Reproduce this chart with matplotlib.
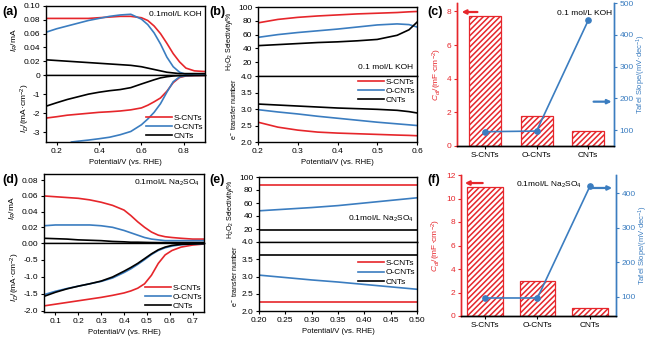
import matplotlib
matplotlib.use("Agg")
import matplotlib.pyplot as plt

plt.rcParams.update({
    "font.family": ["Liberation Sans", "DejaVu Sans"],
    "font.size": 6,
    "axes.linewidth": 1.0,
    "axes.unicode_minus": False,
    "xtick.major.size": 2.5,
    "ytick.major.size": 2.5,
    "xtick.major.width": 0.8,
    "ytick.major.width": 0.8,
    "xtick.major.pad": 1.5,
    "ytick.major.pad": 1.5,
    "mathtext.fontset": "custom",
    "mathtext.rm": "Liberation Sans",
    "mathtext.it": "Liberation Sans:italic",
    "hatch.linewidth": 1.1,
})

RED = "#e6262b"
BLUE = "#3b7dc0"
BLACK = "#000000"
labels = ["S-CNTs", "O-CNTs", "CNTs"]
colors = [RED, BLUE, BLACK]

# ---- (a) RRDE in 0.1 mol/L KOH ----
pot_a = [0.15, 0.2, 0.25, 0.3, 0.35, 0.4, 0.45, 0.5, 0.55, 0.6, 0.63, 0.66,
         0.69, 0.72, 0.75, 0.78, 0.81, 0.85, 0.9]
ir_a_s = [0.082, 0.082, 0.082, 0.082, 0.082, 0.083, 0.084, 0.085, 0.085, 0.083,
          0.079, 0.071, 0.060, 0.046, 0.031, 0.019, 0.010, 0.006, 0.005]
ir_a_o = [0.062, 0.067, 0.071, 0.075, 0.079, 0.082, 0.085, 0.087, 0.088, 0.081,
          0.073, 0.061, 0.045, 0.026, 0.012, 0.004, 0.001, 0.000, 0.000]
ir_a_c = [0.022, 0.021, 0.020, 0.019, 0.018, 0.017, 0.016, 0.015, 0.014, 0.012,
          0.010, 0.008, 0.006, 0.004, 0.003, 0.002, 0.002, 0.002, 0.002]
id_a_s = [-2.25, -2.18, -2.10, -2.05, -2.00, -1.95, -1.92, -1.88, -1.82, -1.72,
          -1.58, -1.40, -1.20, -0.85, -0.40, -0.13, -0.05, -0.03, -0.02]
pot_a_o = [0.27, 0.3, 0.35, 0.4, 0.45, 0.5, 0.55, 0.6, 0.63, 0.66, 0.69, 0.72,
           0.75, 0.78, 0.81, 0.85, 0.9]
id_a_o = [-3.50, -3.46, -3.40, -3.33, -3.25, -3.12, -2.95, -2.60, -2.30, -1.95,
          -1.50, -0.90, -0.35, -0.10, -0.04, -0.02, -0.01]
id_a_c = [-1.63, -1.45, -1.28, -1.14, -1.00, -0.90, -0.82, -0.76, -0.66, -0.47,
          -0.36, -0.25, -0.15, -0.09, -0.05, -0.03, -0.02, -0.02, -0.02]

# ---- (b) selectivity / electron number in KOH ----
pot_b = [0.2, 0.25, 0.3, 0.35, 0.4, 0.45, 0.5, 0.55, 0.58, 0.6]
sel_b_s = [77, 82, 85, 87, 88.5, 90, 91, 92, 93, 93.5]
sel_b_o = [56, 60, 63, 65.5, 68, 71, 74, 75.5, 74.5, 71]
sel_b_c = [44, 45.5, 47, 48.5, 49.5, 51, 53, 59, 67, 78]
n_b_s = [2.60, 2.45, 2.36, 2.30, 2.27, 2.25, 2.23, 2.21, 2.20, 2.19]
n_b_o = [2.98, 2.91, 2.85, 2.78, 2.72, 2.66, 2.60, 2.55, 2.52, 2.50]
n_b_c = [3.15, 3.12, 3.09, 3.06, 3.03, 3.01, 2.99, 2.96, 2.92, 2.88]

# ---- (c) Cdl and Tafel slope in KOH ----
cdl_koh = [7.7, 1.8, 0.9]
tafel_koh = [95, 97, 445]

# ---- (d) RRDE in 0.1 mol/L Na2SO4 ----
pot_d = [0.05, 0.1, 0.15, 0.2, 0.25, 0.3, 0.35, 0.4, 0.43, 0.46, 0.49, 0.52,
         0.55, 0.58, 0.61, 0.65, 0.7, 0.75]
ir_d_s = [0.060, 0.059, 0.058, 0.057, 0.055, 0.052, 0.048, 0.042, 0.035, 0.027,
          0.020, 0.014, 0.010, 0.008, 0.007, 0.006, 0.005, 0.005]
ir_d_o = [0.022, 0.023, 0.023, 0.023, 0.023, 0.022, 0.020, 0.016, 0.013, 0.010,
          0.007, 0.005, 0.004, 0.003, 0.003, 0.003, 0.003, 0.003]
ir_d_c = [0.006, 0.0055, 0.005, 0.004, 0.0035, 0.003, 0.002, 0.0015, 0.001,
          0.001, 0.0008, 0.0006, 0.0005, 0.0005, 0.0005, 0.0005, 0.0005, 0.0005]
id_d_s = [-1.85, -1.80, -1.75, -1.70, -1.65, -1.60, -1.54, -1.47, -1.41, -1.33,
          -1.20, -0.95, -0.60, -0.35, -0.22, -0.12, -0.06, -0.03]
id_d_o = [-1.52, -1.42, -1.34, -1.27, -1.20, -1.13, -1.03, -0.87, -0.76, -0.63,
          -0.49, -0.34, -0.22, -0.14, -0.09, -0.05, -0.03, -0.02]
id_d_c = [-1.57, -1.45, -1.35, -1.27, -1.20, -1.12, -1.00, -0.83, -0.72, -0.60,
          -0.46, -0.32, -0.20, -0.12, -0.07, -0.04, -0.03, -0.02]

# ---- (e) selectivity / electron number in Na2SO4 ----
pot_e = [0.2, 0.25, 0.3, 0.35, 0.4, 0.45, 0.5]
sel_e_s = [87, 87, 87, 87, 87, 87, 87]
sel_e_o = [48, 50.5, 53, 56, 60, 64, 68]
sel_e_c = [18, 18, 18, 18, 18, 18, 18]
n_e_s = [2.25, 2.25, 2.25, 2.25, 2.25, 2.25, 2.25]
n_e_o = [3.04, 2.97, 2.90, 2.84, 2.77, 2.70, 2.63]
n_e_c = [3.63, 3.63, 3.63, 3.63, 3.63, 3.63, 3.63]

# ---- (f) Cdl and Tafel slope in Na2SO4 ----
cdl_na = [11.0, 3.0, 0.7]
tafel_na = [97, 97, 421]

W, H = 650, 340
fig = plt.figure(figsize=(6.5, 3.4), dpi=100)


def add_px(x0, x1, y0, y1):
    return fig.add_axes([x0 / W, 1 - y1 / H, (x1 - x0) / W, (y1 - y0) / H])


def split_panel(x0, x1, yt, ym, yb, xlim):
    top = add_px(x0, x1, yt, ym)
    bot = add_px(x0, x1, ym, yb)
    for ax in (top, bot):
        ax.set_xlim(*xlim)
        ax.tick_params(direction="out", labelsize=6)
    top.tick_params(axis="x", bottom=False, labelbottom=False)
    return top, bot


def line_legend(ax, loc, anchor):
    ax.legend(loc=loc, bbox_to_anchor=anchor, frameon=False, fontsize=6,
              handlelength=3.2, handletextpad=0.2, labelspacing=0.15,
              borderaxespad=0.1, borderpad=0.1)


LW = 1.2
XLAB = "Potential/V (vs. RHE)"

# (a)
ta, ba = split_panel(46, 205, 6, 75, 142, (0.15, 0.9))
for y, c in zip([ir_a_s, ir_a_o, ir_a_c], colors):
    ta.plot(pot_a, y, color=c, lw=LW)
ba.plot(pot_a, id_a_s, color=RED, lw=LW, label=labels[0])
ba.plot(pot_a_o, id_a_o, color=BLUE, lw=LW, label=labels[1])
ba.plot(pot_a, id_a_c, color=BLACK, lw=LW, label=labels[2])
ta.set_ylim(0, 0.10)
ta.set_yticks([0.02, 0.04, 0.06, 0.08, 0.10])
ta.set_yticklabels(["0.02", "0.04", "0.06", "0.08", "0.10"])
ba.set_ylim(-3.5, 0)
ba.set_yticks([0, -1, -2, -3])
ba.set_yticklabels(["0", "-1", "-2", "-3"])
ba.set_xticks([0.2, 0.4, 0.6, 0.8])
ta.set_ylabel("$I_R$/mA", fontsize=6, labelpad=3)
ba.set_ylabel("$I_D$/(mA·cm$^{-2}$)", fontsize=6, labelpad=1)
ba.set_xlabel(XLAB, fontsize=5.5, labelpad=3)
ta.text(0.98, 0.87, "0.1mol/L KOH", transform=ta.transAxes, ha="right",
        va="center", fontsize=6)
line_legend(ba, "lower right", (1.0, 0.0))

# (b)
tb, bb = split_panel(258, 417, 7, 76, 142, (0.2, 0.6))
for y, c in zip([sel_b_s, sel_b_o, sel_b_c], colors):
    tb.plot(pot_b, y, color=c, lw=LW)
for y, c, lab in zip([n_b_s, n_b_o, n_b_c], colors, labels):
    bb.plot(pot_b, y, color=c, lw=LW, label=lab)
tb.set_ylim(0, 100)
tb.set_yticks([20, 40, 60, 80, 100])
bb.set_ylim(2.0, 4.0)
bb.set_yticks([2.0, 2.5, 3.0, 3.5, 4.0])
bb.set_yticklabels(["2.0", "2.5", "3.0", "3.5", "4.0"])
bb.set_xticks([0.2, 0.3, 0.4, 0.5, 0.6])
tb.set_ylabel("H$_2$O$_2$ Selectivity/%", fontsize=5, labelpad=2)
bb.set_ylabel("e$^-$ transfer number", fontsize=5, labelpad=2)
bb.set_xlabel(XLAB, fontsize=5.5, labelpad=3)
tb.text(0.975, 0.12, "0.1 mol/L KOH", transform=tb.transAxes, ha="right",
        va="center", fontsize=6)
line_legend(bb, "upper right", (1.0, 0.99))


def bar_panel(x0, x1, y0, y1, cdl, tafel, xlim, ylim_l, yt_l, ylim_r, yt_r,
              note, note_xy, red_arrow, blue_arrow, width):
    ax = add_px(x0, x1, y0, y1)
    pos = list(range(len(labels)))
    ax.bar(pos, cdl, width=width, facecolor="white", edgecolor=RED,
           hatch="//////", linewidth=0.9, zorder=2)
    ax.set_xlim(*xlim)
    ax.set_ylim(*ylim_l)
    ax.set_yticks(yt_l)
    ax.set_xticks(pos)
    ax.set_xticklabels(labels, fontsize=6.5)
    ax.tick_params(direction="out", labelsize=6)
    ax.tick_params(axis="y", colors=RED)
    ax.set_ylabel("$C_{dl}$/(mF·cm$^{-2}$)", color=RED, fontsize=6, labelpad=2)
    ax2 = ax.twinx()
    ax2.plot(pos, tafel, "-o", color=BLUE, lw=1.2, ms=3.8, zorder=3)
    ax2.set_ylim(*ylim_r)
    ax2.set_yticks(yt_r)
    ax2.tick_params(direction="out", labelsize=6, colors=BLUE)
    ax2.set_ylabel("Tafel Slope/(mV·dec$^{-1}$)", color=BLUE, fontsize=5.5,
                   labelpad=1)
    for a in (ax, ax2):
        a.spines["top"].set_visible(False)
        a.spines["left"].set_color(RED)
        a.spines["right"].set_color(BLUE)
    ax2.text(note_xy[0], note_xy[1], note, transform=ax2.transAxes, ha="right",
             va="center", fontsize=6)
    for (xs, xe, yy), c in ((red_arrow, RED), (blue_arrow, BLUE)):
        ax2.annotate("", xy=(xe, yy), xytext=(xs, yy), xycoords="axes fraction",
                     arrowprops=dict(arrowstyle="-|>", color=c, lw=1.6,
                                     mutation_scale=6, shrinkA=0, shrinkB=0))
    return ax, ax2


# (c)
bar_panel(457, 614, 3, 146, cdl_koh, tafel_koh, (-0.54, 2.5), (0, 8.5),
          [0, 2, 4, 6, 8], (50, 500), [100, 200, 300, 400, 500],
          "0.1 mol/L KOH", (0.985, 0.93), (0.13, 0.03, 0.937),
          (0.87, 0.985, 0.31), 0.62)

# (d)
td, bd = split_panel(44, 204, 174, 243, 312, (0.05, 0.75))
for y, c in zip([ir_d_s, ir_d_o, ir_d_c], colors):
    td.plot(pot_d, y, color=c, lw=LW)
for y, c, lab in zip([id_d_s, id_d_o, id_d_c], colors, labels):
    bd.plot(pot_d, y, color=c, lw=LW, label=lab)
td.set_ylim(0, 0.088)
td.set_yticks([0.0, 0.02, 0.04, 0.06, 0.08])
td.set_yticklabels(["0.00", "0.02", "0.04", "0.06", "0.08"])
bd.set_ylim(-2.03, 0)
bd.set_yticks([-0.5, -1.0, -1.5, -2.0])
bd.set_yticklabels(["-0.5", "-1.0", "-1.5", "-2.0"])
bd.set_xticks([0.1, 0.2, 0.3, 0.4, 0.5, 0.6, 0.7])
td.set_ylabel("$I_R$/mA", fontsize=6, labelpad=3)
bd.set_ylabel("$I_D$/(mA·cm$^{-2}$)", fontsize=6, labelpad=1)
bd.set_xlabel(XLAB, fontsize=5.5, labelpad=3)
td.text(0.975, 0.87, "0.1mol/L Na$_2$SO$_4$", transform=td.transAxes,
        ha="right", va="center", fontsize=6)
line_legend(bd, "lower right", (1.0, 0.0))

# (e)
te, be = split_panel(259, 417, 177, 242, 311, (0.2, 0.5))
for y, c in zip([sel_e_s, sel_e_o, sel_e_c], colors):
    te.plot(pot_e, y, color=c, lw=LW)
for y, c, lab in zip([n_e_s, n_e_o, n_e_c], colors, labels):
    be.plot(pot_e, y, color=c, lw=LW, label=lab)
te.set_ylim(0, 100)
te.set_yticks([20, 40, 60, 80, 100])
be.set_ylim(2.0, 4.0)
be.set_yticks([2.0, 2.5, 3.0, 3.5, 4.0])
be.set_yticklabels(["2.0", "2.5", "3.0", "3.5", "4.0"])
be.set_xticks([0.20, 0.25, 0.30, 0.35, 0.40, 0.45, 0.50])
be.set_xticklabels(["0.20", "0.25", "0.30", "0.35", "0.40", "0.45", "0.50"])
te.set_ylabel("H$_2$O$_2$ Selectivity/%", fontsize=5, labelpad=2)
be.set_ylabel("e$^-$ transfer number", fontsize=5, labelpad=2)
be.set_xlabel(XLAB, fontsize=5.5, labelpad=3)
te.text(0.98, 0.35, "0.1mol/L Na$_2$SO$_4$", transform=te.transAxes,
        ha="right", va="center", fontsize=6)
line_legend(be, "upper right", (1.0, 0.77))

# (f)
bar_panel(461, 616, 175, 316, cdl_na, tafel_na, (-0.45, 2.49), (0, 12),
          [0, 2, 4, 6, 8, 10, 12], (45, 452), [100, 200, 300, 400],
          "0.1mol/L Na$_2$SO$_4$", (0.78, 0.93), (0.14, 0.025, 0.943),
          (0.85, 0.975, 0.908), 0.68)

# panel letters
for lab, x, y in [("(a)", 2, 12), ("(b)", 209, 12), ("(c)", 427, 12),
                  ("(d)", 2, 180), ("(e)", 209, 180), ("(f)", 427, 180)]:
    fig.text(x / W, 1 - y / H, lab, fontsize=9, fontweight="bold",
             ha="left", va="center")

fig.savefig("out.png", dpi=100)
